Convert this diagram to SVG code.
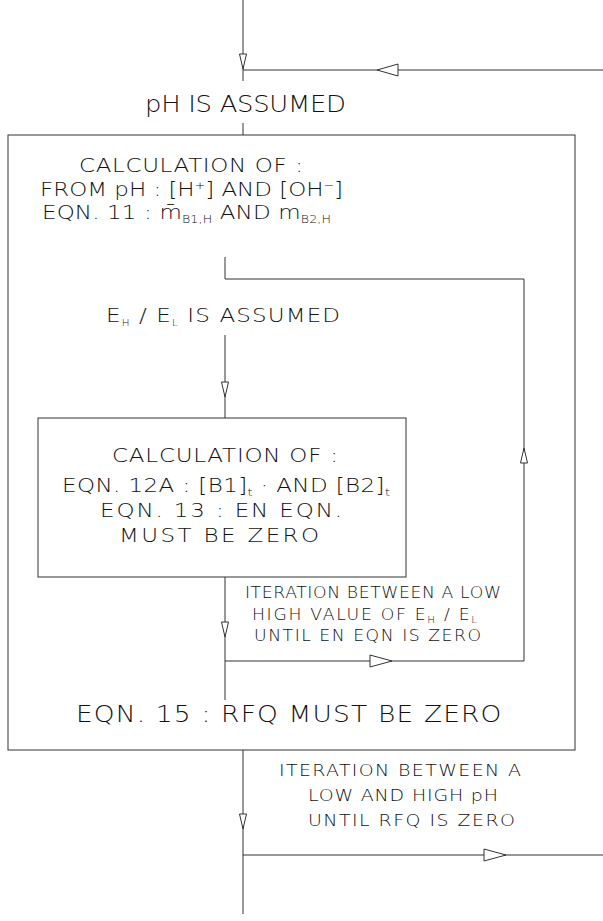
<svg xmlns="http://www.w3.org/2000/svg" width="603" height="921" viewBox="0 0 603 921">
<style>
text{font-family:"DejaVu Sans","Liberation Sans",sans-serif;font-weight:200;fill:#111}
.w{transform:scale(1.15,1)}
.l{fill:none;stroke:#333;stroke-width:1}
.ah{fill:#fff;stroke:#333;stroke-width:1}
.t24{font-size:22.5px}
.t18{font-size:20px}
.t21{font-size:23px}
.t15{font-size:15px}
.t16{font-size:16.5px}
.sub{font-size:11px}
.sub2{font-size:9px}
</style>
<rect width="603" height="921" fill="#fff"/>
<g id="connectors">
<path class="l" d="M243,0V81M243,70H603"/>
<polygon class="ah" points="239.5,54 246.5,54 243,69"/>
<polygon class="ah" points="377,70 398,64 398,76"/>
<path class="l" d="M243,123V135"/>
<path class="l" d="M225,257V279H524V661H225"/>
<polygon class="ah" points="520.5,463 527.5,463 524,448"/>
<polygon class="ah" points="392,661 370,655 370,667"/>
<path class="l" d="M225,335V418"/>
<polygon class="ah" points="221.5,382 228.5,382 225,397"/>
<path class="l" d="M225,577V700"/>
<polygon class="ah" points="221.5,622 228.5,622 225,637"/>
<path class="l" d="M243,750V914M243,855H603"/>
<polygon class="ah" points="239.5,814 246.5,814 243,829"/>
<polygon class="ah" points="506,855 484,849 484,861"/>
</g>
<g id="ph-assumed">
<text class="t24 w" x="126.1" y="112" textLength="174.8" lengthAdjust="spacing">pH  IS  ASSUMED</text>
</g>
<g id="outer-loop">
<rect class="l" x="8" y="135" width="567" height="615"/>
</g>
<g id="calc1">
<text class="t18 w" x="68.7" y="172" textLength="194.8" lengthAdjust="spacing">CALCULATION OF :</text>
<text class="t18 w" x="34.8" y="196" textLength="263.5" lengthAdjust="spacing">FROM pH : [H<tspan class="sub" dy="-7">+</tspan><tspan dy="7">] AND [OH</tspan><tspan class="sub" dy="-7">−</tspan><tspan dy="7">]</tspan></text>
<text class="t18 w" x="36.5" y="219" textLength="251.3" lengthAdjust="spacing">EQN. 11 : m&#772;<tspan class="sub" dy="4">B1,H</tspan><tspan dy="-4"> AND m</tspan><tspan class="sub" dy="4">B2,H</tspan></text>
</g>
<g id="eh-assumed">
<text class="t18 w" x="92.2" y="322" textLength="203.5" lengthAdjust="spacing">E<tspan class="sub2" dy="4">H</tspan><tspan dy="-4"> / E</tspan><tspan class="sub2" dy="4">L</tspan><tspan dy="-4"> IS ASSUMED</tspan></text>
</g>
<g id="calc2">
<rect class="l" x="38" y="418" width="368" height="159"/>
<text class="t18 w" x="97.4" y="462" textLength="196.5" lengthAdjust="spacing">CALCULATION OF :</text>
<text class="t18 w" x="53.9" y="492" textLength="285.2" lengthAdjust="spacing">EQN. 12A : [B1]<tspan class="sub" dy="4">t</tspan><tspan dy="-4"> · AND [B2]</tspan><tspan class="sub" dy="4">t</tspan></text>
<text class="t18 w" x="87" y="517" textLength="210.4" lengthAdjust="spacing">EQN. 13 : EN EQN.</text>
<text class="t18 w" x="103.5" y="542" textLength="173.9" lengthAdjust="spacing">MUST BE ZERO</text>
</g>
<g id="iter-e">
<text class="t15 w" x="213" y="598" textLength="222.6" lengthAdjust="spacing">ITERATION BETWEEN A LOW</text>
<text class="t15 w" x="219.1" y="620" textLength="195.7" lengthAdjust="spacing">HIGH VALUE OF E<tspan class="sub2" dy="3">H</tspan><tspan dy="-3"> / E</tspan><tspan class="sub2" dy="3">L</tspan></text>
<text class="t15 w" x="220.9" y="641" textLength="197.4" lengthAdjust="spacing">UNTIL EN EQN IS ZERO</text>
</g>
<g id="rfq">
<text class="t21 w" x="66" y="722" textLength="370" lengthAdjust="spacing">EQN. 15 : RFQ MUST BE ZERO</text>
</g>
<g id="iter-ph">
<text class="t16 w" x="242.6" y="776" textLength="210.4" lengthAdjust="spacing">ITERATION BETWEEN A</text>
<text class="t16 w" x="267.8" y="801" textLength="165.2" lengthAdjust="spacing">LOW AND HIGH pH</text>
<text class="t16 w" x="267.8" y="826" textLength="180" lengthAdjust="spacing">UNTIL RFQ IS ZERO</text>
</g>
</svg>
